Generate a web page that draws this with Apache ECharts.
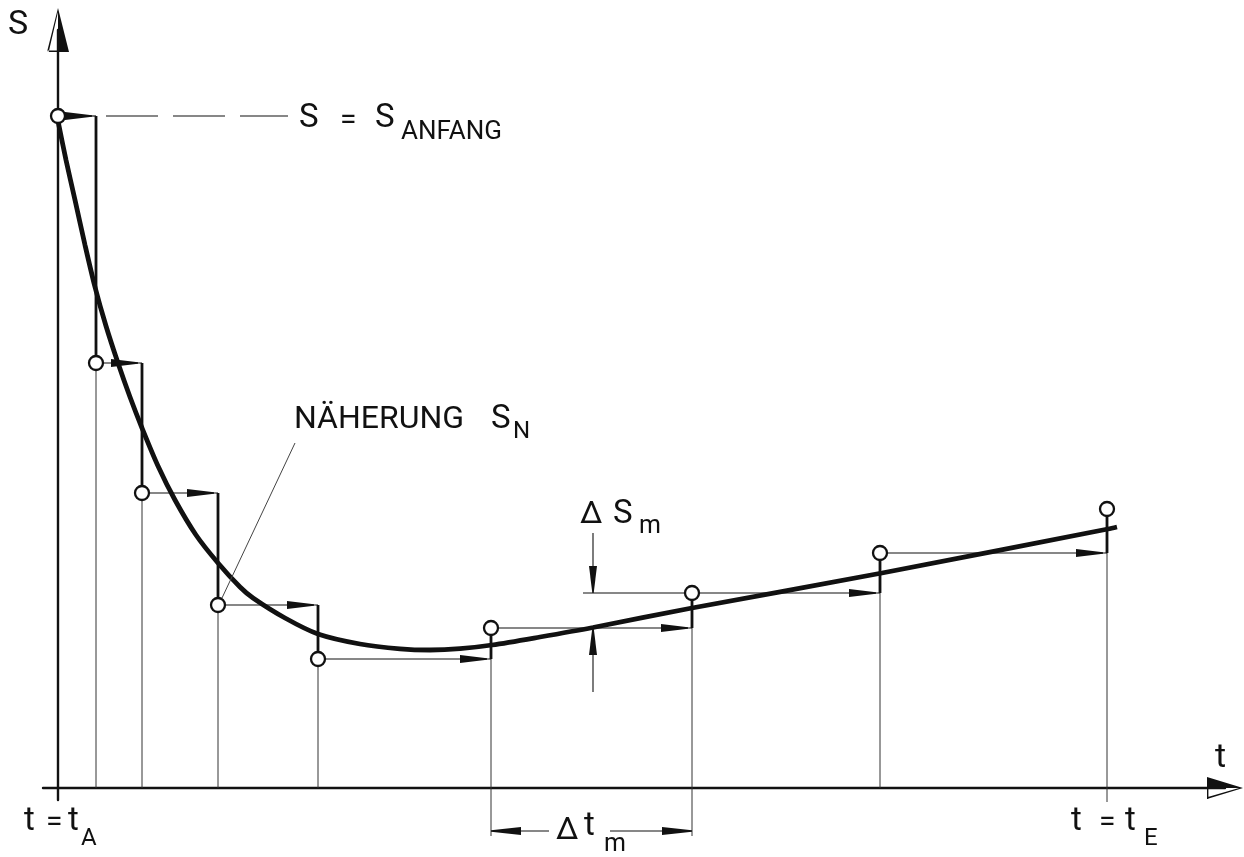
<!DOCTYPE html>
<html><head><meta charset="utf-8">
<script src="https://cdn.jsdelivr.net/npm/echarts@6/dist/echarts.min.js"></script>
<style>html,body{margin:0;padding:0;background:#fff}#c{width:1244px;height:857px}</style>
</head><body><div id="c"></div>
<script>
// Approximation points S_N (t, S), origin at the axis crossing
const pointT = [0, 38, 84, 160, 260, 433, 634, 822, 1049];
const pointS = [672, 425, 295, 183, 129, 160, 195, 235, 279];
// Exact curve S(t)
const curveT = [0, 8, 17, 27, 37, 48, 60, 72, 84, 100, 117, 138, 160, 182, 195, 227, 260, 302, 342, 372, 402, 434, 482, 535, 634, 824, 1050, 1059];
const curveS = [667, 628, 588, 543, 501, 462, 425, 391, 360, 322, 288, 253, 225, 201, 190, 170, 154, 144, 139.2, 138, 139.3, 143, 151, 160.5, 180, 215, 259, 261];
// Axis ranges
const tRange = [-15, 1167];
const sRange = [-12, 758];
// interval used for the Δt_m / ΔS_m dimensions (indices into the point arrays)
const dimFrom = 5, dimTo = 6;
const dimST = 535; // t position of the ΔS_m dimension line

const INK = '#111';
const FONT = 'Roboto';
const R = 6.5;

const curveData = curveT.map((t, i) => [t, curveS[i]]);
const pointData = pointT.map((t, i) => [t, pointS[i]]);
const stepData = pointT.slice(0, -1).map((t, i) => [t, pointS[i], pointT[i + 1], pointS[i + 1]]);
const dropData = pointT.slice(1).map((t, i) => [t, pointS[i + 1], i + 1]);

function renderStep(params, api) {
  const a = api.coord([api.value(0), api.value(1)]);
  const b = api.coord([api.value(2), api.value(3)]);
  const cx = b[0], cy = a[1];
  const up = b[1] < cy;
  const tip = cx - 4;
  return { type: 'group', children: [
    { type: 'line', shape: { x1: a[0] + R, y1: cy, x2: cx, y2: cy }, style: { stroke: INK, lineWidth: 1.2 } },
    { type: 'polygon', shape: { points: [[tip - 27, cy - 4], [tip, cy - 0.7], [tip, cy + 0.7], [tip - 27, cy + 4]] }, style: { fill: INK } },
    { type: 'line', shape: { x1: cx, y1: cy, x2: cx, y2: b[1] + (up ? R : -R) }, style: { stroke: INK, lineWidth: 2.8 } }
  ] };
}

function renderDrop(params, api) {
  const p = api.coord([api.value(0), api.value(1)]);
  const o = api.coord([api.value(0), 0]);
  const idx = api.value(2);
  let ext = 0;
  if (idx === dimFrom || idx === dimTo) ext = 48;
  if (idx === pointT.length - 1) ext = 14;
  return { type: 'line', shape: { x1: p[0], y1: p[1] + R, x2: p[0], y2: o[1] + ext }, style: { stroke: '#333', lineWidth: 1 } };
}

function arrowV(x, tipY, dir) { // dir = +1 pointing down, -1 pointing up
  return { type: 'polygon', shape: { points: [[x - 4, tipY - dir * 27], [x - 0.7, tipY], [x + 0.7, tipY], [x + 4, tipY - dir * 27]] }, style: { fill: INK } };
}
function arrowH(y, tipX, dir) { // dir = +1 pointing right, -1 pointing left
  return { type: 'polygon', shape: { points: [[tipX - dir * 30, y - 4], [tipX, y - 0.7], [tipX, y + 0.7], [tipX - dir * 30, y + 4]] }, style: { fill: INK } };
}

function renderAnno(params, api) {
  const p0 = api.coord([pointT[0], pointS[0]]);
  const p3 = api.coord([pointT[3], pointS[3]]);
  const pa = api.coord([pointT[dimFrom], pointS[dimFrom]]);
  const pb = api.coord([pointT[dimTo], pointS[dimTo]]);
  const o = api.coord([0, 0]);
  const dx = api.coord([dimST, 0])[0];
  const dy = o[1] + 43;
  const thin = { stroke: INK, lineWidth: 1.1 };
  return { type: 'group', children: [
    // S = S_ANFANG dashed leader
    { type: 'line', shape: { x1: p0[0] + 48, y1: p0[1], x2: p0[0] + 230, y2: p0[1] }, style: { stroke: INK, lineWidth: 1.2, lineDash: [52, 15] } },
    // Näherung leader
    { type: 'line', shape: { x1: p3[0] + 4, y1: p3[1] - 7, x2: 295, y2: 443 }, style: { stroke: '#444', lineWidth: 1 } },
    // ΔS_m dimension
    { type: 'line', shape: { x1: dx - 10, y1: pb[1], x2: pb[0] - R, y2: pb[1] }, style: thin },
    { type: 'line', shape: { x1: dx, y1: pb[1] - 60, x2: dx, y2: pb[1] - 20 }, style: thin },
    arrowV(dx, pb[1], 1),
    { type: 'line', shape: { x1: dx, y1: pa[1] + 20, x2: dx, y2: pa[1] + 64 }, style: thin },
    arrowV(dx, pa[1], -1),
    // Δt_m dimension
    arrowH(dy, pa[0], -1),
    arrowH(dy, pb[0], 1),
    { type: 'line', shape: { x1: pa[0] + 25, y1: dy, x2: pa[0] + 58, y2: dy }, style: thin },
    { type: 'line', shape: { x1: pb[0] - 82, y1: dy, x2: pb[0] - 25, y2: dy }, style: thin }
  ] };
}

function txt(s, x, y, size) {
  return { type: 'text', x: x, y: y, z: 100, style: { text: s, font: size + 'px ' + FONT, fill: INK, align: 'left', verticalAlign: 'middle', textAlign: 'left', textVerticalAlign: 'middle' } };
}

const yArrow = 'path://M11 0L22 44L11 44Z M11 0L0 44L1.7 44L11 4Z M0 42.6L11 42.6L11 44L0 44Z';
const xArrow = 'path://M11 0L0 36L11 36Z M11 0L22 36L20.3 36L11 4Z M11 34.6L22 34.6L22 36L11 36Z';

const chart = echarts.init(document.getElementById('c'), null, { renderer: 'canvas' });
chart.setOption({
  animation: false,
  backgroundColor: '#fff',
  grid: { left: 43, right: 19, top: 30, bottom: 57 },
  xAxis: {
    type: 'value', min: tRange[0], max: tRange[1],
    axisLine: { show: true, onZero: true, symbol: ['none', xArrow], symbolSize: [22, 36], lineStyle: { color: INK, width: 2.4 } },
    axisTick: { show: false }, axisLabel: { show: false }, splitLine: { show: false }
  },
  yAxis: {
    type: 'value', min: sRange[0], max: sRange[1],
    axisLine: { show: true, onZero: true, symbol: ['none', yArrow], symbolSize: [22, 44], lineStyle: { color: INK, width: 2.4 } },
    axisTick: { show: false }, axisLabel: { show: false }, splitLine: { show: false }
  },
  series: [
    { type: 'custom', name: 'drops', data: dropData, renderItem: renderDrop, z: 1, silent: true },
    { type: 'custom', name: 'steps', data: stepData, renderItem: renderStep, z: 2, silent: true },
    { type: 'line', name: 'S', data: curveData, smooth: 0.3, showSymbol: false, lineStyle: { color: INK, width: 4.8 }, z: 3, silent: true },
    { type: 'custom', name: 'anno', data: [[0, 0]], renderItem: renderAnno, z: 4, silent: true },
    { type: 'scatter', name: 'S_N', data: pointData, symbol: 'circle', symbolSize: 14, itemStyle: { color: '#fff', borderColor: INK, borderWidth: 2.3, opacity: 1 }, z: 10, silent: true }
  ],
  graphic: [
    txt('S', 8, 25, 34),
    txt('t', 1215, 758, 34),
    txt('S', 299, 119, 33),
    txt('=', 340, 121, 30),
    txt('S', 375, 119, 33),
    txt('ANFANG', 401, 132, 26),
    txt('NÄHERUNG', 294, 420, 32),
    txt('S', 491, 420, 33),
    txt('N', 513, 432, 24),
    txt('Δ', 580, 515, 32),
    txt('S', 613, 515, 33),
    txt('m', 639, 527, 25),
    txt('Δ', 556, 831, 32),
    txt('t', 584, 827, 33),
    txt('m', 604, 845, 25),
    txt('t', 24, 822, 33),
    txt('=', 46, 823, 30),
    txt('t', 68, 822, 33),
    txt('A', 81, 839, 24),
    txt('t', 1071, 822, 33),
    txt('=', 1099, 823, 30),
    txt('t', 1125, 822, 33),
    txt('E', 1144, 839, 24)
  ]
});
</script></body></html>
